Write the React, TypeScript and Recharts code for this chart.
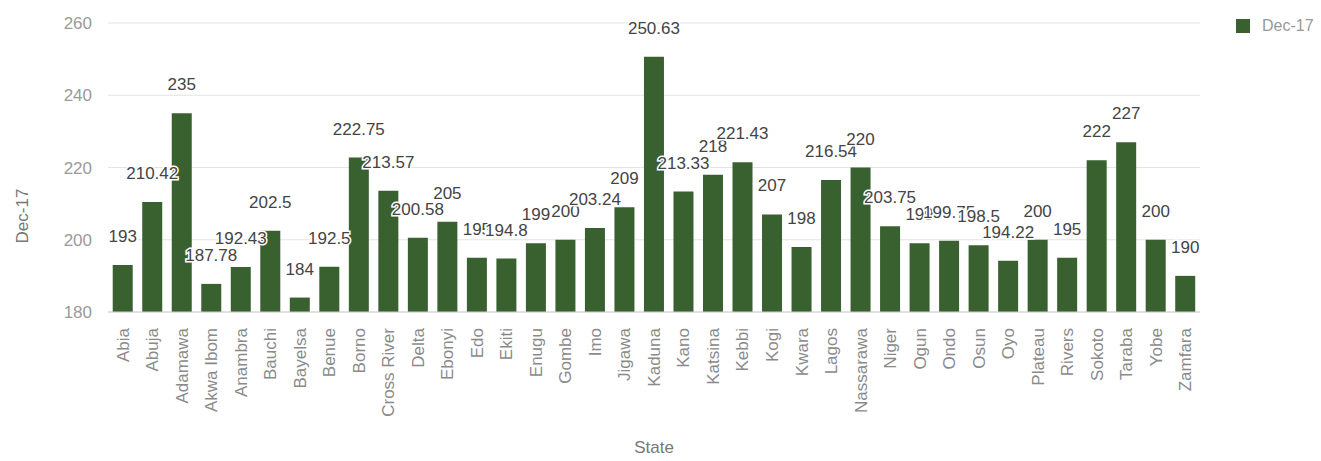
import React from 'react';
import { BarChart, Bar, XAxis, YAxis, CartesianGrid, LabelList, Label } from 'recharts';

const states = [
  'Abia', 'Abuja', 'Adamawa', 'Akwa Ibom', 'Anambra', 'Bauchi', 'Bayelsa', 'Benue', 'Borno', 'Cross River',
  'Delta', 'Ebonyi', 'Edo', 'Ekiti', 'Enugu', 'Gombe', 'Imo', 'Jigawa', 'Kaduna', 'Kano',
  'Katsina', 'Kebbi', 'Kogi', 'Kwara', 'Lagos', 'Nassarawa', 'Niger', 'Ogun', 'Ondo', 'Osun',
  'Oyo', 'Plateau', 'Rivers', 'Sokoto', 'Taraba', 'Yobe', 'Zamfara',
];

const dec17 = [
  193, 210.42, 235, 187.78, 192.43, 202.5, 184, 192.5, 222.75, 213.57,
  200.58, 205, 195, 194.8, 199, 200, 203.24, 209, 250.63, 213.33,
  218, 221.43, 207, 198, 216.54, 220, 203.75, 199, 199.75, 198.5,
  194.22, 200, 195, 222, 227, 200, 190,
];

const yTicks = [180, 200, 220, 240, 260];
const seriesName = 'Dec-17';
const xTitle = 'State';

const data = states.map((s, i) => ({ state: s, value: dec17[i] }));

const FONT = '"Liberation Sans", Arial, sans-serif';
const BAR = '#38612f';

const XTick = (props: any) => {
  const { x, y, payload } = props;
  return (
    <text
      x={x}
      y={y + 8}
      transform={`rotate(-90, ${x}, ${y + 8})`}
      textAnchor="end"
      dy="0.35em"
      fontFamily={FONT}
      fontSize={17}
      fill="#8a8a8a"
    >
      {payload.value}
    </text>
  );
};

const BarLabel = (props: any) => {
  const { x, y, width, value } = props;
  return (
    <text
      x={x + width / 2}
      y={y - 23}
      textAnchor="middle"
      fontFamily={FONT}
      fontSize={17}
      fill="#444"
      stroke="#fff"
      strokeWidth={3}
      paintOrder="stroke"
    >
      {String(value)}
    </text>
  );
};

export default function App() {
  return (
    <div style={{ position: 'absolute', left: 0, top: 0, width: 1321, height: 461, background: '#fff' }}>
      <BarChart
        width={1321}
        height={461}
        data={data}
        margin={{ top: 23, right: 121, bottom: 0, left: 48 }}
        barCategoryGap="16%"
      >
        <CartesianGrid vertical={false} stroke="#e3e3e3" />
        <XAxis
          dataKey="state"
          interval={0}
          height={149}
          tickLine={false}
          axisLine={{ stroke: '#d0d0d0' }}
          tick={<XTick />}
        >
          <Label
            content={(p: any) => {
              const vb = p.viewBox;
              return (
                <text
                  x={vb.x + vb.width / 2}
                  y={vb.y + vb.height - 8}
                  textAnchor="middle"
                  fontFamily={FONT}
                  fontSize={17}
                  fill="#777"
                >
                  {xTitle}
                </text>
              );
            }}
          />
        </XAxis>
        <YAxis
          domain={[180, 260]}
          ticks={yTicks}
          width={60}
          tickLine={false}
          axisLine={false}
          tickMargin={10}
          tick={{ fontFamily: FONT, fontSize: 17, fill: '#9a9a9a' }}
          allowDataOverflow
        >
          <Label
            content={() => (
              <text
                x={22}
                y={216}
                transform="rotate(-90, 22, 216)"
                textAnchor="middle"
                dy="0.35em"
                fontFamily={FONT}
                fontSize={17}
                fill="#777"
              >
                {seriesName}
              </text>
            )}
          />
        </YAxis>
        <Bar dataKey="value" name={seriesName} fill={BAR} isAnimationActive={false}>
          <LabelList dataKey="value" content={<BarLabel />} />
        </Bar>
      </BarChart>
      <div
        style={{
          position: 'absolute',
          left: 1236,
          top: 17,
          display: 'flex',
          alignItems: 'center',
          fontFamily: FONT,
          fontSize: 16,
          color: '#999',
          whiteSpace: 'nowrap',
        }}
      >
        <span style={{ display: 'inline-block', width: 14, height: 14, background: BAR, marginRight: 12 }} />
        <span>{seriesName}</span>
      </div>
    </div>
  );
}
